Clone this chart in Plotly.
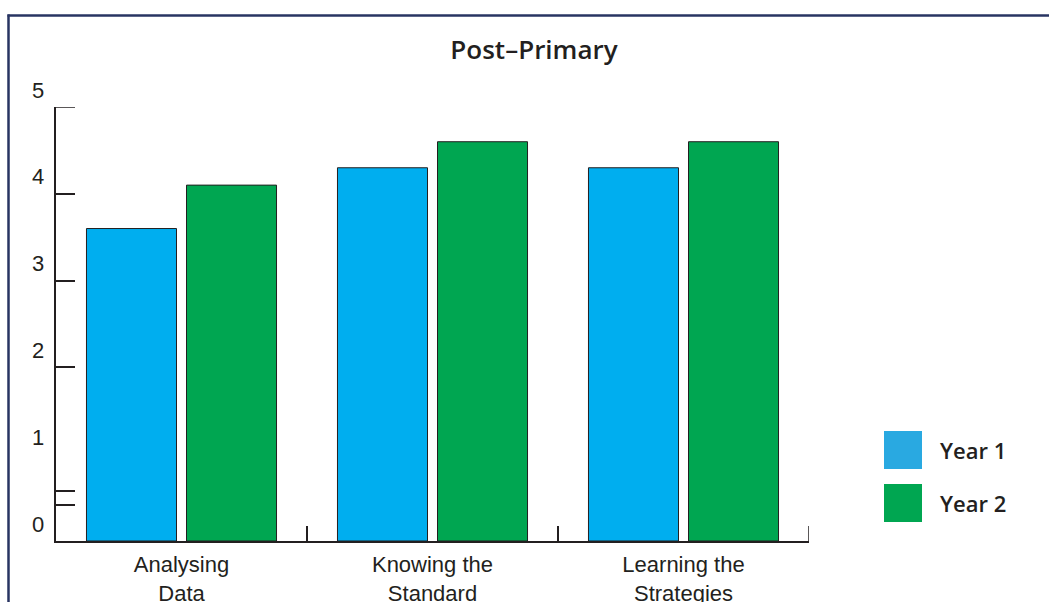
import plotly.graph_objects as go

# Chart data
categories = ["Analysing<br>Data", "Knowing the<br>Standard", "Learning the<br>Strategies"]
series_names = ["Year 1", "Year 2"]
year1 = [3.6, 4.3, 4.3]
year2 = [4.1, 4.6, 4.6]
y_tick_values = [0.42, 0.58, 2, 3, 4, 5]
y_label_values = [0, 1, 2, 3, 4, 5]
y_max = 5

bar_colors = ["#00AEEF", "#00A651"]
swatch_colors = ["#29A9E1", "#00A651"]
ink = "#231F20"
frame_color = "#283462"

W, H = 1049, 602
M_L, M_R, M_T, M_B = 56, 240, 107, 61
PW, PH = W - M_L - M_R, H - M_T - M_B


def px_x(x):
    return (x - M_L) / PW


def px_y(y):
    return (H - M_B - y) / PH


fig = go.Figure()
for name, vals, col in zip(series_names, [year1, year2], bar_colors):
    fig.add_trace(go.Bar(
        x=categories, y=vals, name=name,
        marker=dict(color=col, line=dict(color=ink, width=1)),
        showlegend=False,
    ))

fig.update_layout(
    width=W, height=H,
    margin=dict(l=M_L, r=M_R, t=M_T, b=M_B, pad=0),
    paper_bgcolor="white", plot_bgcolor="white",
    barmode="group", bargap=0.203, bargroupgap=0.1,
    title=dict(text="Post–Primary", x=534 / W, xanchor="center",
               y=1 - 50 / H, yanchor="middle",
               font=dict(family="Open Sans", size=26, color=ink, weight=600)),
    xaxis=dict(
        showline=True, linecolor=ink, linewidth=1.5,
        ticks="inside", tickson="boundaries", ticklen=15, tickwidth=1.5, tickcolor=ink,
        showgrid=False, zeroline=False, automargin=False,
        tickfont=dict(family="Liberation Sans", size=22, color=ink),
        range=[-0.5, len(categories) - 0.5], ticklabelstandoff=3,
    ),
    yaxis=dict(
        range=[0, y_max], showline=True, linecolor=ink, linewidth=1.5,
        ticks="inside", ticklen=19, tickwidth=1.5, tickcolor=ink,
        tickvals=y_tick_values, showticklabels=False,
        showgrid=False, zeroline=False, automargin=False,
    ),
)

# end-of-axis ticks, which the axes skip at their range limits
fig.add_shape(type="line", xref="paper", yref="y",
              x0=0, x1=19 / PW, y0=y_max, y1=y_max,
              line=dict(color=ink, width=1.5))
fig.add_shape(type="line", xref="x", yref="paper",
              x0=len(categories) - 0.5, x1=len(categories) - 0.5, y0=0, y1=15 / PH,
              line=dict(color=ink, width=1.5))

# value labels sit a little above their axis positions
for v in y_label_values:
    fig.add_annotation(text=str(v), xref="paper", yref="y",
                       x=px_x(46), y=v, yshift=17, xanchor="right", yanchor="middle",
                       showarrow=False,
                       font=dict(family="Liberation Sans", size=22, color=ink))

# legend swatches and labels
swatch_tops = [431, 484]
for name, col, top in zip(series_names, swatch_colors, swatch_tops):
    fig.add_shape(type="rect", xref="paper", yref="paper",
                  x0=px_x(884), x1=px_x(922), y0=px_y(top + 38), y1=px_y(top),
                  fillcolor=col, line=dict(width=0))
    fig.add_annotation(text=name, xref="paper", yref="paper",
                       x=px_x(938), y=px_y(top + 19), xanchor="left", yanchor="middle",
                       showarrow=False,
                       font=dict(family="Open Sans", size=22, color=ink, weight=600))

# frame around the panel
fig.add_shape(type="line", xref="paper", yref="paper",
              x0=px_x(7.5), x1=px_x(1060), y0=px_y(15.5), y1=px_y(15.5),
              line=dict(color=frame_color, width=2.5))
fig.add_shape(type="line", xref="paper", yref="paper",
              x0=px_x(8.5), x1=px_x(8.5), y0=px_y(14.5), y1=px_y(620),
              line=dict(color=frame_color, width=2.5))

fig.write_html("out.html")
